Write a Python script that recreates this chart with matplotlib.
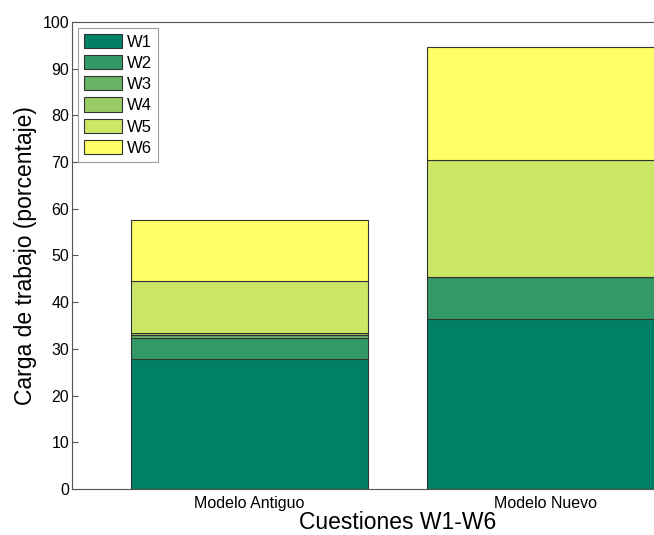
import matplotlib.pyplot as plt
import numpy as np

plt.rcParams['font.family'] = ['Liberation Sans', 'DejaVu Sans']

modelos = ['Modelo Antiguo', 'Modelo Nuevo']
series = ['W1', 'W2', 'W3', 'W4', 'W5', 'W6']
w1 = [27.9, 36.5]
w2 = [4.4, 8.9]
w3 = [0.7, 0.0]
w4 = [0.3, 0.0]
w5 = [11.2, 25.0]
w6 = [13.0, 24.2]
valores = [w1, w2, w3, w4, w5, w6]

# summer colormap, 6 steps
colores = ['#008066', '#339966', '#66b366', '#99cc66', '#cce666', '#ffff66']

fig = plt.figure(figsize=(6.54, 5.35), dpi=100)
ax = fig.add_axes([0.110, 0.086, 0.995, 0.873])

x = np.arange(1, len(modelos) + 1)
base = np.zeros(len(modelos))
for nombre, vals, col in zip(series, valores, colores):
    ax.bar(x, vals, 0.8, bottom=base, color=col, edgecolor='#333333',
           linewidth=0.8, label=nombre)
    base = base + np.array(vals)

ax.set_xlim(0.4, 2.6)
ax.set_ylim(0, 100)
ax.set_yticks(range(0, 101, 10))
ax.set_xticks(x)
ax.set_xticklabels(modelos, fontsize=11.5)
ax.tick_params(axis='y', labelsize=11.5, direction='in', length=4, color='#555555', pad=2)
ax.tick_params(axis='x', direction='in', length=0, pad=5)
for s in ax.spines.values():
    s.set_color('#555555')
    s.set_linewidth(0.8)

ax.set_xlabel('Cuestiones W1-W6', fontsize=16.5, labelpad=0)
ax.set_ylabel('Carga de trabajo (porcentaje)', fontsize=16.5, labelpad=4)

leg = ax.legend(loc='upper left', fontsize=12, frameon=True, fancybox=False,
                handlelength=2.3, handleheight=0.95, labelspacing=0.32,
                borderpad=0.35, handletextpad=0.3, borderaxespad=0.35)
leg.get_frame().set_edgecolor('#888888')
leg.get_frame().set_linewidth(0.8)

fig.savefig('out.png', dpi=100)
